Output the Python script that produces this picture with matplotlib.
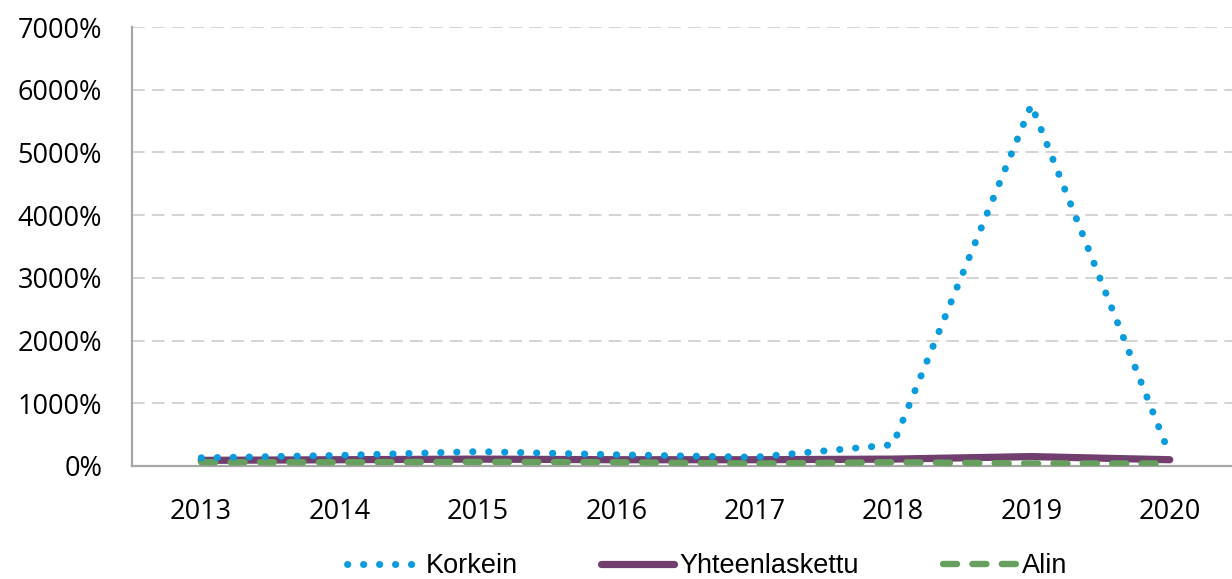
import matplotlib
matplotlib.use("Agg")
import matplotlib.pyplot as plt
from matplotlib.ticker import FuncFormatter

# Arvot luettu kuvasta (prosentteina)
vuodet = ["2013", "2014", "2015", "2016", "2017", "2018", "2019", "2020"]
korkein = [130, 170, 230, 180, 140, 340, 5760, 180]
yhteenlaskettu = [90, 100, 110, 100, 100, 110, 150, 100]
alin = [60, 60, 65, 60, 40, 60, 40, 40]

plt.rcParams['font.family'] = ['Open Sans', 'DejaVu Sans']

fig = plt.figure(figsize=(12.32, 5.79), dpi=100)
ax = fig.add_axes([132 / 1232, 1 - 466 / 579, 1 - 132 / 1232, (466 - 27) / 579])

x = range(len(vuodet))
ax.plot(x, yhteenlaskettu, color="#703F6E", lw=5.2, solid_capstyle="round",
        solid_joinstyle="round", label="Yhteenlaskettu", zorder=3)
ax.plot(x, alin, color="#67A05E", lw=4.6, linestyle=(0, (2.2, 2.4)), dash_capstyle="round",
        label="Alin", zorder=4)
ax.plot(x, korkein, color="#0A9BDC", lw=5.0, linestyle=(0, (0.05, 2.25)), dash_capstyle="round",
        label="Korkein", zorder=5)

ax.set_xlim(-0.5, 7.45)
ax.set_ylim(0, 7000)
ax.set_xticks(list(x))
ax.set_xticklabels(vuodet)
ax.set_yticks(range(0, 7001, 1000))
ax.yaxis.set_major_formatter(FuncFormatter(lambda v, p: f"{int(v)}%"))
ax.tick_params(axis="both", length=0, labelsize=19.5, colors="black")
ax.tick_params(axis="x", pad=23)
ax.tick_params(axis="y", pad=21.5)

ax.grid(axis="y", color="#D0D0D0", linestyle=(0, (7, 4)), lw=1.3)
ax.set_axisbelow(True)
for s in ["top", "right"]:
    ax.spines[s].set_visible(False)
for s in ["left", "bottom"]:
    ax.spines[s].set_color("#A6A6A6")
    ax.spines[s].set_linewidth(1.6)

h, l = ax.get_legend_handles_labels()
jarj = [2, 0, 1]
fig.legend([h[i] for i in jarj], [l[i] for i in jarj], loc="center",
           bbox_to_anchor=(707 / 1232, 1 - 566 / 579), ncol=3, frameon=False,
           prop={"family": ["Liberation Sans", "DejaVu Sans"], "size": 19.5},
           handlelength=2.7, handletextpad=0.2, columnspacing=3.1, borderaxespad=0,
           borderpad=0)

fig.savefig("out.png", dpi=100)
